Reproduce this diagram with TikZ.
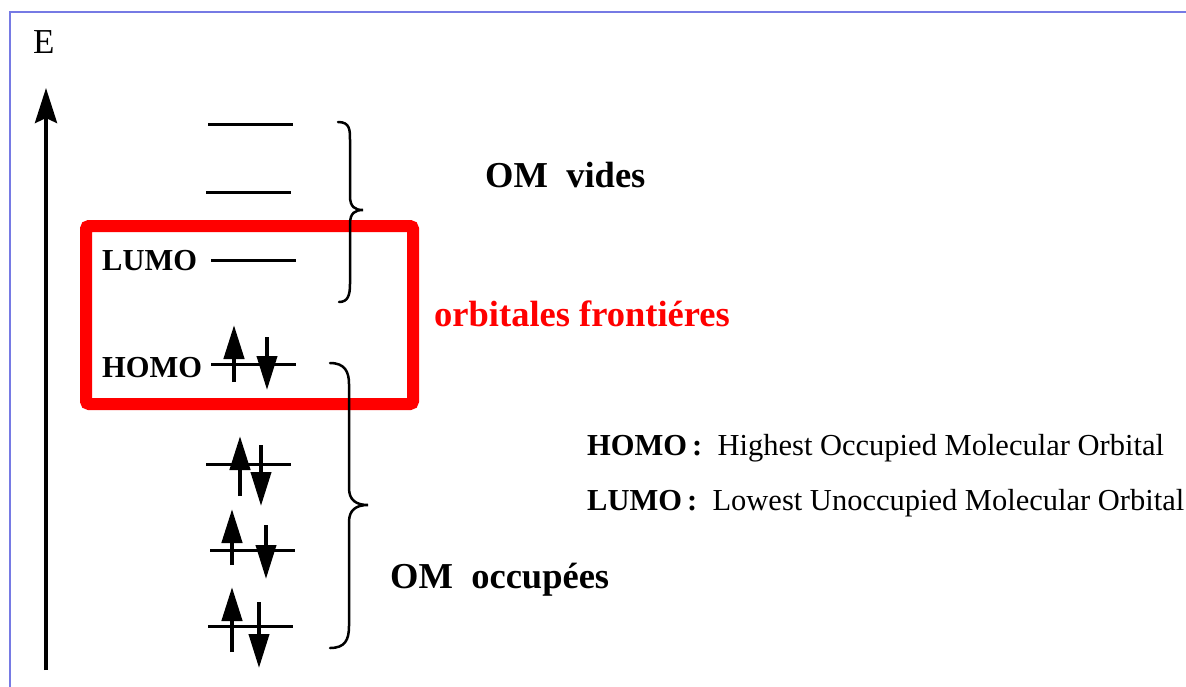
\documentclass[tikz,border=0pt]{standalone}
\usepackage{fontspec}
\setmainfont{Liberation Serif}
\usetikzlibrary{arrows.meta}
\definecolor{framecol}{RGB}{118,122,228}
\definecolor{boxred}{RGB}{255,0,0}
\begin{document}
\begin{tikzpicture}[x=1pt,y=-1pt,
  level/.style={line width=3pt},
  spinup/.style={line width=4.5pt,-{Triangle[length=34pt,width=20pt]}},
  spindown/.style={line width=4pt,-{Triangle[length=34pt,width=20pt]}},
  brace/.style={line width=2.5pt,line cap=round},
  lbl/.style={font=\fontsize{30.5}{32}\selectfont\bfseries,inner sep=0pt,anchor=base west},
  big/.style={font=\fontsize{36.5}{40}\selectfont\bfseries,inner sep=0pt,anchor=base west},
  legend/.style={font=\fontsize{30.5}{32}\selectfont,inner sep=0pt,anchor=base west}]
\useasboundingbox (0,0) rectangle (1186,686);
% frame
\draw[framecol,line width=2.2pt] (10,690) -- (10,12) -- (1190,12);
% energy axis
\node[font=\fontsize{35}{37}\selectfont,inner sep=0pt,anchor=base west] (E) at (33,53) {E};
\coordinate (axb) at (46,670);
\coordinate (axt) at (46,88);
\draw[line width=4pt,-{Stealth[length=35pt,width=22pt,inset=5pt]}] (axb) -- (axt);
% empty levels
\coordinate (v1a) at (208,124); \coordinate (v1b) at (293,124);
\coordinate (v2a) at (206,192); \coordinate (v2b) at (291,192);
\coordinate (lua) at (211,260); \coordinate (lub) at (296,260);
\draw[level] (v1a) -- (v1b);
\draw[level] (v2a) -- (v2b);
\draw[level] (lua) -- (lub);
% HOMO
\coordinate (hoa) at (211,364); \coordinate (hob) at (296,364);
\draw[level] (hoa) -- (hob);
\coordinate (hu1) at (234,382); \coordinate (hu2) at (234,325);
\coordinate (hd1) at (267,337); \coordinate (hd2) at (267,390);
\draw[spinup] (hu1) -- (hu2);
\draw[spindown] (hd1) -- (hd2);
% occupied levels
\coordinate (o1a) at (206,464); \coordinate (o1b) at (291,464);
\coordinate (o2a) at (210,550); \coordinate (o2b) at (295,550);
\coordinate (o3a) at (208,626); \coordinate (o3b) at (293,626);
\draw[level] (o1a) -- (o1b);
\draw[level] (o2a) -- (o2b);
\draw[level] (o3a) -- (o3b);
\coordinate (u1a) at (240,496); \coordinate (u1b) at (240,436);
\coordinate (d1a) at (261,445); \coordinate (d1b) at (261,506);
\coordinate (u2a) at (232,565); \coordinate (u2b) at (232,509);
\coordinate (d2a) at (266,525); \coordinate (d2b) at (266,579);
\coordinate (u3a) at (232,652); \coordinate (u3b) at (232,587);
\coordinate (d3a) at (259,602); \coordinate (d3b) at (259,668);
\draw[spinup] (u1a) -- (u1b);
\draw[spindown] (d1a) -- (d1b);
\draw[spinup] (u2a) -- (u2b);
\draw[spindown] (d2a) -- (d2b);
\draw[spinup] (u3a) -- (u3b);
\draw[spindown] (d3a) -- (d3b);
% level labels
\node[lbl] (lumo) at (102,270) {LUMO};
\node[lbl] (homo) at (102,377) {HOMO};
% frontier box
\draw[boxred,line width=12pt,rounded corners=3pt] (86,226) rectangle (413,404);
% upper brace
\coordinate (ubt) at (338,122);
\coordinate (ubtip) at (363,210);
\coordinate (ubb) at (339,302);
\draw[brace] (ubt) .. controls (350,122) and (350,130) .. (350,140)
  -- (350,196) .. controls (350,207) and (355,210) .. (ubtip)
  .. controls (355,210) and (350,213) .. (350,224)
  -- (350,284) .. controls (350,295) and (348,302) .. (ubb);
% lower brace
\coordinate (lbt) at (330,363);
\coordinate (lbtip) at (368,505);
\coordinate (lbb) at (330,648);
\draw[brace] (lbt) .. controls (345,363) and (349,372) .. (349,384)
  -- (349,488) .. controls (349,500) and (356,505) .. (lbtip)
  .. controls (356,505) and (349,510) .. (349,522)
  -- (349,626) .. controls (349,640) and (345,648) .. (lbb);
% group labels
\node[big] (vides) at (485,187) {OM\ \ vides};
\node[big,text=boxred] (front) at (434,326) {orbitales frontiéres};
\node[big] (occ) at (390,588) {OM\ \ occupées};
% legend
\node[legend] (legH) at (587,455) {\textbf{HOMO\,:}\ \ Highest Occupied Molecular Orbital};
\node[legend] (legL) at (587,510) {\textbf{LUMO\,:}\ \ Lowest Unoccupied Molecular Orbital};
\end{tikzpicture}
\end{document}
